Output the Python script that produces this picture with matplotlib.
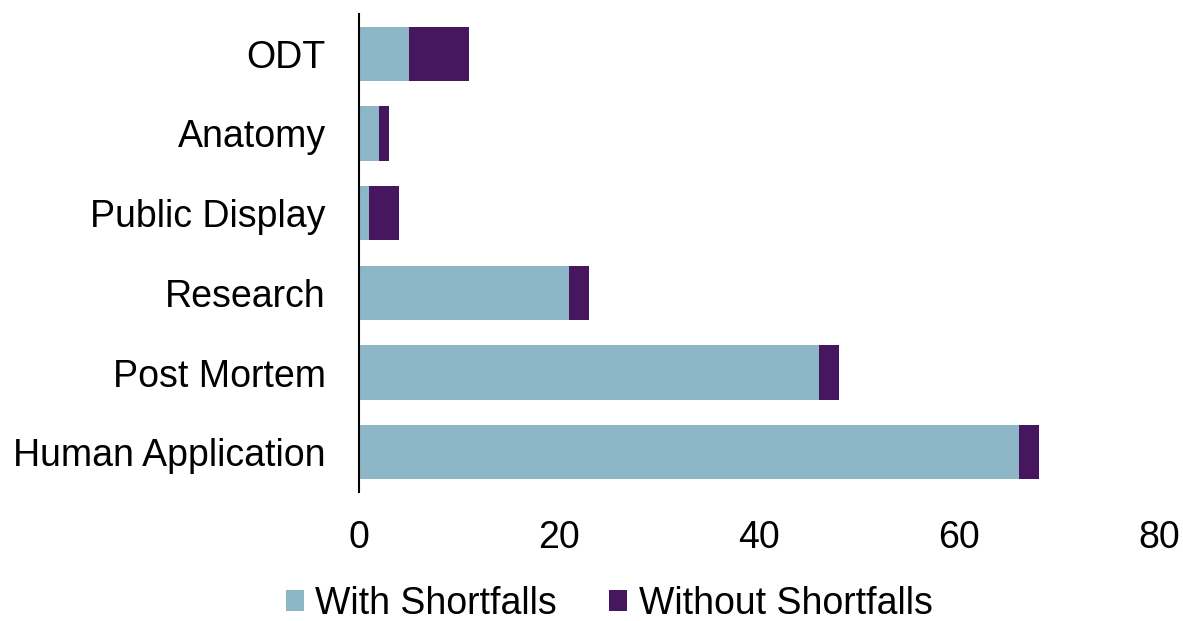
import matplotlib.pyplot as plt
import numpy as np

categories = ['Human Application', 'Post Mortem', 'Research', 'Public Display', 'Anatomy', 'ODT']
with_shortfalls = [66, 46, 21, 1, 2, 5]
without_shortfalls = [2, 2, 2, 3, 1, 6]

plt.rcParams['font.family'] = ['Liberation Sans', 'DejaVu Sans']

fig = plt.figure(figsize=(11.83, 6.21), dpi=100)
ax = fig.add_axes([0.3035, 0.2077, 0.6762, 0.7698])

y = np.arange(len(categories))
ax.barh(y, with_shortfalls, height=0.68, color='#8db6c6', label='With Shortfalls')
ax.barh(y, without_shortfalls, left=with_shortfalls, height=0.68, color='#46165e',
        label='Without Shortfalls')

ax.set_xlim(0, 80)
ax.set_ylim(-0.5, len(categories) - 0.5)
ax.set_xticks([0, 20, 40, 60, 80])
ax.set_yticks(y)
ax.set_yticklabels(categories)
ax.tick_params(axis='both', length=0, labelsize=27)
ax.tick_params(axis='y', pad=24)
ax.tick_params(axis='x', pad=20)

for s in ['top', 'right', 'bottom']:
    ax.spines[s].set_visible(False)
ax.spines['left'].set_linewidth(1.5)

fig.legend(loc='center', bbox_to_anchor=(0.515, 0.027), ncol=2, frameon=False,
           fontsize=27, handlelength=0.48, handleheight=0.48, handletextpad=0.3,
           columnspacing=1.4, borderpad=0)

fig.savefig('out.png', dpi=100)
